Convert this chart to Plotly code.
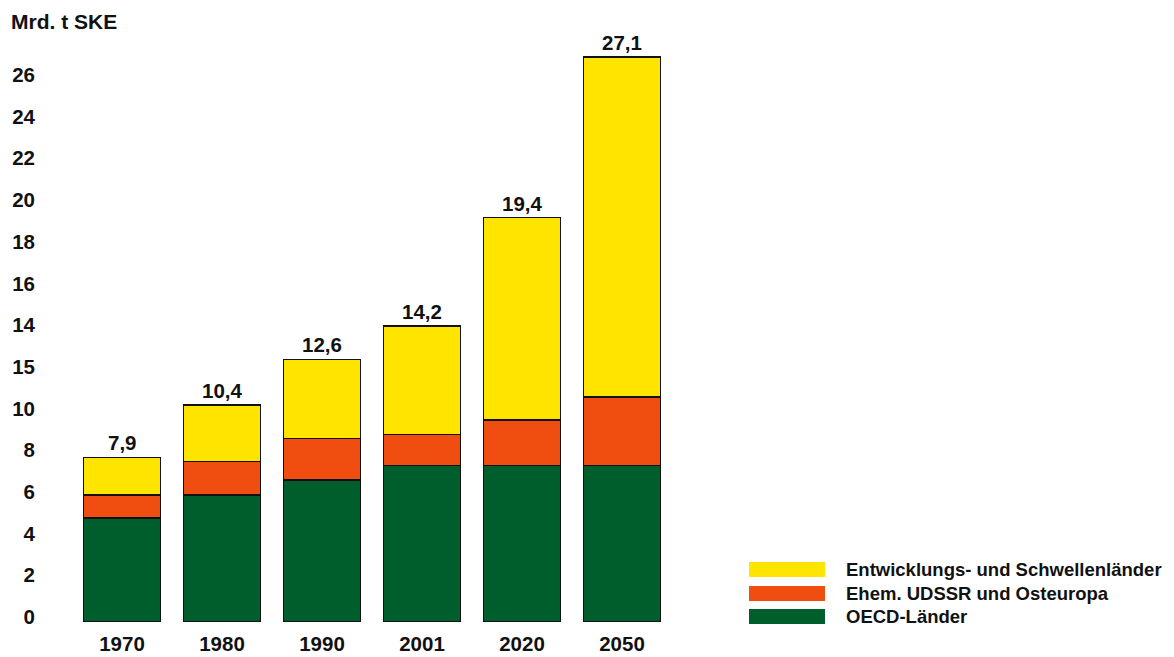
import plotly.graph_objects as go

# Primary energy consumption by region, Mrd. t SKE
years = ["1970", "1980", "1990", "2001", "2020", "2050"]
oecd = [5.0, 6.1, 6.8, 7.5, 7.5, 7.5]
udssr = [1.1, 1.6, 2.0, 1.5, 2.2, 3.3]
totals = [7.9, 10.4, 12.6, 14.2, 19.4, 27.1]
total_labels = ["7,9", "10,4", "12,6", "14,2", "19,4", "27,1"]
entwicklung = [round(t - o - u, 2) for t, o, u in zip(totals, oecd, udssr)]

tick_vals = [0, 2, 4, 6, 8, 10, 12, 14, 16, 18, 20, 22, 24, 26]
tick_text = ["0", "2", "4", "6", "8", "10", "15", "14", "16", "18", "20", "22", "24", "26"]

series_names = ["OECD-Länder", "Ehem. UDSSR und Osteuropa", "Entwicklungs- und Schwellenländer"]
colors = ["#005E2C", "#F04E10", "#FFE400"]

W, H = 1174, 657
ML, MR, MT, MB = 72, 502, 28, 35
PW, PH = W - ML - MR, H - MT - MB

FONT = "Liberation Sans, Arial, sans-serif"


def fx(px):
    return (px - ML) / PW


def fy(py):
    return (H - MB - py) / PH


fig = go.Figure()
for name, vals, col in zip(series_names, [oecd, udssr, entwicklung], colors):
    fig.add_trace(go.Bar(
        x=years, y=vals, name=name,
        marker=dict(color=col, line=dict(color="#111111", width=1.5)),
        width=0.77, showlegend=False, hoverinfo="skip",
    ))

annotations = []
# total labels above each stack (x given as category index)
for i, (tot, lab) in enumerate(zip(totals, total_labels)):
    annotations.append(dict(
        x=i, y=tot, text=lab, showarrow=False, yanchor="bottom", yshift=1,
        font=dict(family=FONT, size=20.5, color="#111111", weight="bold"),
    ))

annotations.append(dict(
    xref="paper", yref="paper", x=fx(9), y=fy(22), xanchor="left", yanchor="middle",
    text="Mrd. t SKE", showarrow=False,
    font=dict(family=FONT, size=21, color="#111111", weight="bold"),
))

# Legend drawn as swatches with text, top entry first
shapes = []
legend_rows = [(series_names[2], colors[2], 569.5),
               (series_names[1], colors[1], 593.5),
               (series_names[0], colors[0], 616.5)]
for name, col, cy in legend_rows:
    shapes.append(dict(
        type="rect", xref="paper", yref="paper",
        x0=fx(749), x1=fx(825), y0=fy(cy + 7.5), y1=fy(cy - 7.5),
        fillcolor=col, line=dict(width=0),
    ))
    annotations.append(dict(
        xref="paper", yref="paper", x=fx(844), y=fy(cy), xanchor="left", yanchor="middle",
        text=name, showarrow=False,
        font=dict(family=FONT, size=18.5, color="#111111", weight="bold"),
    ))

fig.update_layout(
    width=W, height=H,
    margin=dict(l=ML, r=MR, t=MT, b=MB),
    barmode="stack",
    paper_bgcolor="white", plot_bgcolor="white",
    shapes=shapes, annotations=annotations,
    xaxis=dict(
        type="category", range=[-0.5, len(years) - 0.5], automargin=False,
        showgrid=False, showline=False, zeroline=False, ticks="",
        tickfont=dict(family=FONT, size=20.5, color="#111111", weight="bold"),
        ticklabelstandoff=7,
    ),
    yaxis=dict(
        range=[0, PH / 20.85], automargin=False,
        showgrid=False, showline=False, zeroline=False, ticks="",
        tickvals=tick_vals, ticktext=tick_text,
        tickfont=dict(family=FONT, size=20.5, color="#111111", weight="bold"),
        ticklabelstandoff=36, ticklabelshift=-5,
    ),
)

fig.write_html("out.html")
